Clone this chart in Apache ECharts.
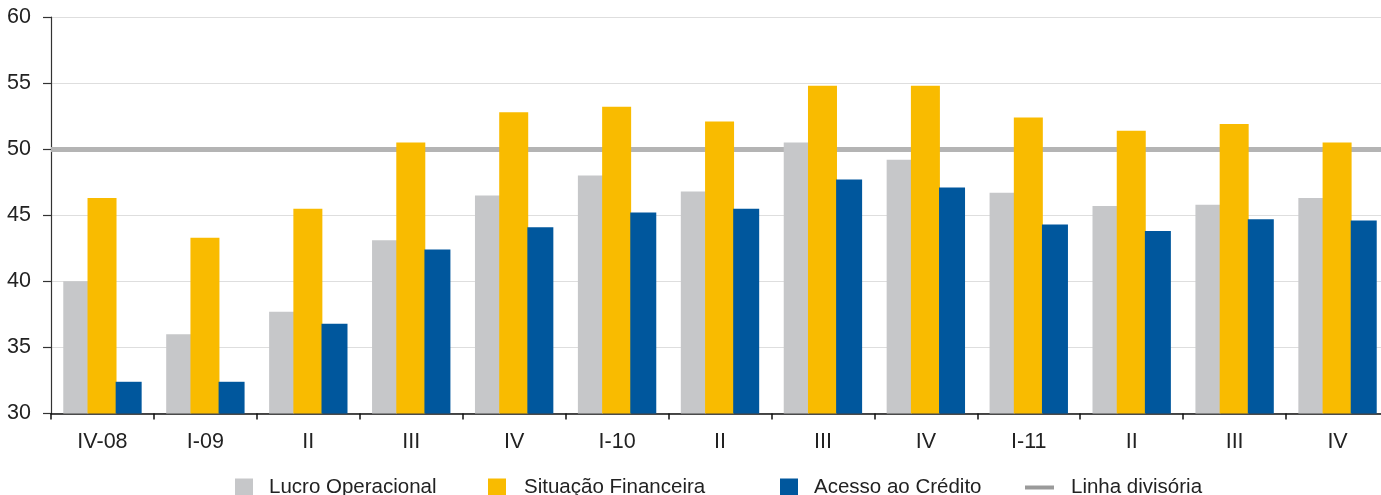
<!DOCTYPE html>
<html>
<head>
<meta charset="utf-8">
<script src="https://cdn.jsdelivr.net/npm/echarts@6/dist/echarts.min.js"></script>
<style>
html,body{margin:0;padding:0;background:#fff;overflow:hidden;width:1381px;height:495px;}
#chart{width:1389px;height:495px;}
</style>
</head>
<body>
<div id="chart"></div>
<script>
const categories = ['IV-08','I-09','II','III','IV','I-10','II','III','IV','I-11','II','III','IV'];
const lucroOperacional = [40.0, 36.0, 37.7, 43.1, 46.5, 48.0, 46.8, 50.5, 49.2, 46.7, 45.7, 45.8, 46.3];
const situacaoFinanceira = [46.3, 43.3, 45.5, 50.5, 52.8, 53.2, 52.1, 54.8, 54.8, 52.4, 51.4, 51.9, 50.5];
const acessoCredito = [32.4, 32.4, 36.8, 42.4, 44.1, 45.2, 45.5, 47.7, 47.1, 44.3, 43.8, 44.7, 44.6];
const linhaDivisoria = 50;
const yTicks = { min: 30, max: 60, interval: 5 };

const FONT = 'Liberation Sans, Arial, sans-serif';
const legendText = { fontSize: 20.5, color: '#222', fontFamily: FONT };
function barLegend(name, left, pad) {
  return { data: [name], left: left, top: 477, padding: 0, itemWidth: 18, itemHeight: 18, icon: 'rect',
    textStyle: Object.assign({ padding: [0, 0, 0, pad] }, legendText) };
}
const chart = echarts.init(document.getElementById('chart'));
chart.setOption({
  animation: false,
  backgroundColor: '#ffffff',
  grid: { left: 51, right: 0, top: 17, bottom: 81.5, containLabel: false },
  legend: [
    barLegend('Lucro Operacional', 235, 11),
    barLegend('Situação Financeira', 488, 13),
    barLegend('Acesso ao Crédito', 780, 11),
    {
      data: [{ name: 'Linha divisória', icon: 'rect', itemStyle: { color: '#9a9a9a' } }],
      left: 1025, top: 477, padding: 0, itemWidth: 29, itemHeight: 4,
      textStyle: Object.assign({ padding: [0, 0, 0, 12] }, legendText)
    }
  ],
  xAxis: {
    type: 'category',
    data: categories,
    axisLine: { lineStyle: { color: '#111', width: 1.5 } },
    axisTick: { show: true, length: 6, inside: false, lineStyle: { color: '#111', width: 1.5 } },
    axisLabel: { fontSize: 21.5, color: '#222', fontFamily: FONT, margin: 18 }
  },
  yAxis: {
    type: 'value',
    min: yTicks.min, max: yTicks.max, interval: yTicks.interval,
    axisLine: { show: true, lineStyle: { color: '#333', width: 1.2 } },
    axisTick: { show: true, length: 8, lineStyle: { color: '#333', width: 1.2 } },
    axisLabel: { fontSize: 21.5, color: '#222', fontFamily: FONT, margin: 20 },
    splitLine: { show: true, lineStyle: { color: '#dedede', width: 1.2 } }
  },
  series: [
    { name: 'Lucro Operacional', type: 'bar', data: lucroOperacional, barWidth: 25, barGap: '-3%', z: 3,
      itemStyle: { color: '#c6c7c9' } },
    { name: 'Situação Financeira', type: 'bar', data: situacaoFinanceira, barWidth: 29, barGap: '-3%', z: 3,
      itemStyle: { color: '#f9bb00' } },
    { name: 'Acesso ao Crédito', type: 'bar', data: acessoCredito, barWidth: 26, barGap: '-3%', z: 3,
      itemStyle: { color: '#00579d' } },
    { name: 'Linha divisória', type: 'line', data: [], itemStyle: { color: '#9a9a9a' }, z: 1,
      markLine: { silent: true, symbol: 'none', z: 1, label: { show: false },
        lineStyle: { color: '#b4b4b4', width: 5, type: 'solid' },
        data: [{ yAxis: linhaDivisoria }] } }
  ]
});
</script>
</body>
</html>
